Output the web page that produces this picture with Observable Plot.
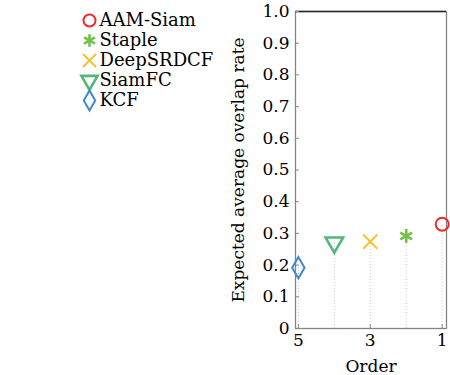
<!DOCTYPE html>
<html><head><meta charset="utf-8">
<script src="https://cdn.jsdelivr.net/npm/d3@7"></script>
<script src="https://cdn.jsdelivr.net/npm/@observablehq/plot@0.6"></script>
<style>
html,body{margin:0;padding:0;background:#fff;}
#wrap{position:relative;width:450px;height:375px;}
#legend{position:absolute;left:0;top:0;}
</style>
</head><body>
<div id="wrap"><div id="chart"></div><div id="legend"></div></div>
<script>
const trackers = ["AAM-Siam", "Staple", "DeepSRDCF", "SiamFC", "KCF"];
const orders = [1, 2, 3, 4, 5];
const eao = [0.329, 0.292, 0.274, 0.271, 0.192];
const colors = ["#ec2a2a", "#72c14a", "#f5c232", "#52b777", "#3f88d4"];
const symbols = ["circle", "asterisk", "times", "triangle", "diamond"];
const yTicks = [0, 0.1, 0.2, 0.3, 0.4, 0.5, 0.6, 0.7, 0.8, 0.9, 1.0];
const xTicks = [5, 3, 1];

const data = trackers.map((t, i) => ({name: t, order: orders[i], eao: eao[i]}));
const font = "'DejaVu Serif', serif";
const rot = d => d.name === "SiamFC" ? 180 : 0;
const sw = d => (d.name === "SiamFC" || d.name === "Staple") ? 2.6 : 2;

const chart = Plot.plot({
  width: 450, height: 375,
  marginLeft: 295, marginRight: 4, marginTop: 11, marginBottom: 47,
  style: `font: 17px ${font}; color: #000; background: #fff;`,
  x: {domain: [5.08, 0.88]},
  y: {domain: [0, 1]},
  symbol: {domain: trackers, range: symbols},
  color: {domain: trackers, range: colors},
  marks: [
    Plot.ruleX(data, {x: "order", y1: 0, y2: "eao", stroke: "#c8c8c8", strokeDasharray: "1,2", strokeWidth: 1}),
    Plot.frame({stroke: "#858585", strokeWidth: 1.3}),
    Plot.ruleY([1], {stroke: "#262626", strokeWidth: 1.3}),
    Plot.axisY({ticks: yTicks, tickSize: -4, tickPadding: 10, stroke: "#858585", fontSize: 17,
      tickFormat: d => d === 0 ? "0" : d.toFixed(1),
      label: "Expected average overlap rate", labelAnchor: "center", labelArrow: "none", labelOffset: 64}),
    Plot.axisX({ticks: xTicks, tickSize: -4, tickPadding: 9, stroke: "#858585", fontSize: 17,
      tickFormat: d => String(d),
      label: "Order", labelAnchor: "center", labelArrow: "none", labelOffset: 43}),
    Plot.dot(data, {x: "order", y: "eao", symbol: "name", stroke: "name", rotate: rot, r: 6.5, strokeWidth: sw})
  ]
});
document.getElementById("chart").appendChild(chart);

const legend = Plot.plot({
  width: 230, height: 115, margin: 0,
  style: `font: 18px ${font}; color: #000; background: transparent;`,
  x: {axis: null, domain: [0, 1]},
  y: {type: "point", domain: trackers, range: [18, 101], padding: 0, axis: null},
  symbol: {domain: trackers, range: symbols},
  color: {domain: trackers, range: colors},
  marks: [
    Plot.dot(data, {frameAnchor: "left", dx: 89, y: "name", symbol: "name", stroke: "name", rotate: rot, r: 6, strokeWidth: sw}),
    Plot.text(data, {frameAnchor: "left", dx: 99, y: "name", text: "name", textAnchor: "start", fill: "#000", fontSize: 18})
  ]
});
document.getElementById("legend").appendChild(legend);
</script>
</body></html>
